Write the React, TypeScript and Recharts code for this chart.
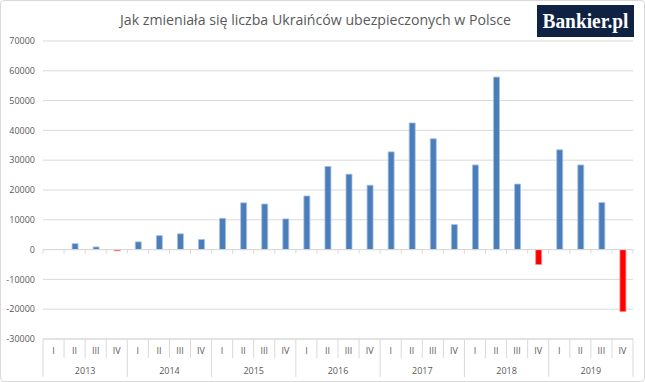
import React from 'react';
import {
  BarChart, Bar, XAxis, YAxis, CartesianGrid, ReferenceLine, Cell,
} from 'recharts';

// values (quarterly change in insured Ukrainians)
const YEARS = ['2013', '2014', '2015', '2016', '2017', '2018', '2019'];
const QUARTERS = ['I', 'II', 'III', 'IV'];
const CHANGES = [
  null, 2000, 900, -400,
  2600, 4700, 5300, 3400,
  10500, 15700, 15300, 10300,
  18000, 27900, 25300, 21600,
  32800, 42500, 37200, 8400,
  28400, 57900, 22000, -5000,
  33500, 28400, 15800, -20800,
];
const Y_TICKS = [-30000, -20000, -10000, 0, 10000, 20000, 30000, 40000, 50000, 60000, 70000];

const TITLE = 'Jak zmieniała się liczba Ukraińców ubezpieczonych w Polsce';

const data = CHANGES.map((v, i) => ({
  key: `${YEARS[Math.floor(i / 4)]}-${QUARTERS[i % 4]}`,
  year: YEARS[Math.floor(i / 4)],
  quarter: QUARTERS[i % 4],
  value: v,
}));

const FONT = '"Open Sans", "Liberation Sans", sans-serif';
const GRID = '#d9d9d9';
const TEXT = '#595959';

const W = 645;
const H = 382;
const PLOT_LEFT = 43;
const PLOT_RIGHT = 633;

function CategoryTick(props: any) {
  const { x, y, payload, index } = props;
  const n = data.length;
  const bw = (PLOT_RIGHT - PLOT_LEFT) / n;
  const [year, q] = String(payload.value).split('-');
  const left = x - bw / 2;
  const isFirst = q === 'I';
  return (
    <g>
      <line x1={left} x2={left} y1={y} y2={isFirst ? y + 38 : y + 19} stroke={GRID} />
      {index === n - 1 && (
        <line x1={x + bw / 2} x2={x + bw / 2} y1={y} y2={y + 38} stroke={GRID} />
      )}
      <text x={x} y={y + 15} textAnchor="middle" fontSize={9} fill={TEXT} fontFamily={FONT}>
        {q}
      </text>
      {q === 'II' && (
        <text x={x + bw / 2} y={y + 35} textAnchor="middle" fontSize={9} fill={TEXT} fontFamily={FONT}>
          {year}
        </text>
      )}
    </g>
  );
}

function ZeroLine(props: any) {
  const { x1, y1, x2 } = props;
  const n = data.length;
  const step = (x2 - x1) / n;
  const ticks = [];
  for (let i = 0; i <= n; i++) {
    const tx = x1 + i * step;
    ticks.push(<line key={i} x1={tx} x2={tx} y1={y1} y2={y1 + 4} stroke={GRID} />);
  }
  return (
    <g>
      <line x1={x1} x2={x2} y1={y1} y2={y1} stroke={GRID} />
      {ticks}
    </g>
  );
}

export default function App() {
  return (
    <div style={{ position: 'relative', width: W, height: H, background: '#fff' }}>
      <style>{'body{margin:0}'}</style>
      <BarChart
        width={W}
        height={H}
        data={data}
        margin={{ top: 41, right: W - PLOT_RIGHT, left: 0, bottom: 0 }}
      >
        <CartesianGrid vertical={false} stroke={GRID} />
        <YAxis
          width={PLOT_LEFT}
          domain={[-30000, 70000]}
          ticks={Y_TICKS}
          interval={0}
          axisLine={false}
          tickLine={false}
          tick={{ fontSize: 9, fill: TEXT, fontFamily: FONT }}
        />
        <XAxis
          dataKey="key"
          height={43}
          interval={0}
          tickLine={false}
          tickSize={0}
          tickMargin={0}
          axisLine={{ stroke: GRID }}
          tick={<CategoryTick />}
        />
        <ReferenceLine y={0} shape={<ZeroLine />} />
        <Bar dataKey="value" barSize={6} isAnimationActive={false} strokeWidth={0.8}>
          {data.map((d) => (
            <Cell
              key={d.key}
              fill={d.value !== null && d.value < 0 ? '#ff0000' : '#4a7ebb'}
              stroke={d.value !== null && d.value < 0 ? '#ff8a8a' : '#a9c1e2'}
            />
          ))}
        </Bar>
      </BarChart>
      <svg
        width={W}
        height={45}
        style={{ position: 'absolute', left: 0, top: 0, pointerEvents: 'none' }}
      >
        <text
          x={120}
          y={25}
          fontSize={14}
          fill={TEXT}
          fontFamily={FONT}
          textLength={391}
          lengthAdjust="spacingAndGlyphs"
        >
          {TITLE}
        </text>
        <rect x={537} y={5} width={97} height={32} fill="#0f2244" />
        <text
          x={585.5}
          y={28}
          textAnchor="middle"
          fontSize={20}
          fontWeight="bold"
          fill="#ffffff"
          fontFamily='"Liberation Serif", "DejaVu Serif", serif'
          textLength={86}
          lengthAdjust="spacingAndGlyphs"
        >
          Bankier.pl
        </text>
      </svg>
      <div
        style={{
          position: 'absolute', left: 0, top: 0, width: W, height: H,
          border: `1px solid ${GRID}`, borderRadius: 4, boxSizing: 'border-box',
          pointerEvents: 'none',
        }}
      />
    </div>
  );
}
